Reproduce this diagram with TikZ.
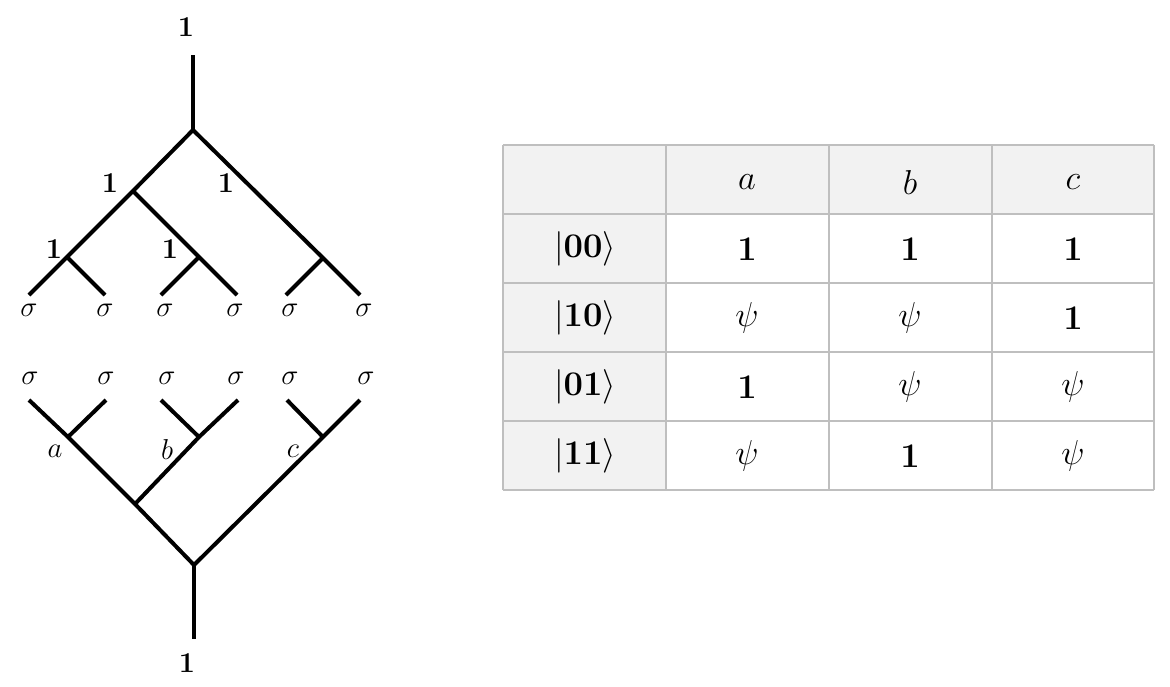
\documentclass[tikz,border=0pt]{standalone}
\usepackage{amsmath}
\usetikzlibrary{calc}
\definecolor{cellgray}{HTML}{F2F2F2}
\definecolor{gridgray}{HTML}{BFBFBF}
\newcommand{\bone}{$\mathbf{1}$}
\newcommand{\psiv}{$\psi$}

\begin{document}
\begin{tikzpicture}[x=0.5pt,y=-0.5pt,
  wire/.style={line width=2pt, line join=miter},
  onelabel/.style={font=\fontsize{14}{16}\selectfont, inner sep=0pt},
  leaflabel/.style={font=\fontsize{15.5}{18}\selectfont, inner sep=0pt},
  gridline/.style={draw=gridgray, line width=0.6pt},
  cell/.style={font=\fontsize{18}{21}\selectfont, inner sep=0pt}]
  \useasboundingbox (0,0) rectangle (1170,686);

  % Coordinates (upper tree)
  \coordinate (T) at (193,55);
  \coordinate (R) at (193,130);
  \coordinate (A) at (133,191);
  \coordinate (B) at (67,257);
  \coordinate (C) at (199,257);
  \coordinate (D) at (323,258);
  \coordinate (L1) at (29,295);
  \coordinate (L2) at (105,295);
  \coordinate (L3) at (161,295);
  \coordinate (L4) at (237,295);
  \coordinate (L5) at (286,295);
  \coordinate (L6) at (360,295);

  % Coordinates (lower tree)
  \coordinate (M1) at (29,400);
  \coordinate (M2) at (106,400);
  \coordinate (M3) at (161,400);
  \coordinate (M4) at (238,400);
  \coordinate (M5) at (287,400);
  \coordinate (M6) at (360,400);
  \coordinate (Ja) at (68,437);
  \coordinate (Jb) at (199,437);
  \coordinate (Jc) at (323,437);
  \coordinate (Jab) at (135,504);
  \coordinate (Q) at (194,565);
  \coordinate (S) at (194,639);

  % Drawing (upper tree)
  \draw[wire] (T) -- (R);
  \draw[wire] (L1) -- (B) -- (A) -- (R) -- (D) -- (L6);
  \draw[wire] (B) -- (L2);
  \draw[wire] (A) -- (C) -- (L4);
  \draw[wire] (C) -- (L3);
  \draw[wire] (D) -- (L5);
  \node[onelabel] (topone) at (186,27) {\bone};
  \node[onelabel] (oneA) at (110,183) {\bone};
  \node[onelabel] (oneR) at (226,183) {\bone};
  \node[onelabel] (oneB) at (54,249) {\bone};
  \node[onelabel] (oneC) at (170,249) {\bone};
  \foreach \x [count=\i] in {29,105,165,235,290,364}
    \node[leaflabel] (su\i) at (\x,310) {$\sigma$};

  % Drawing (lower tree)
  \draw[wire] (M1) -- (Ja) -- (Jab) -- (Q) -- (Jc) -- (M6);
  \draw[wire] (Ja) -- (M2);
  \draw[wire] (M4) -- (Jb) -- (Jab);
  \draw[wire] (Jb) -- (M3);
  \draw[wire] (Jc) -- (M5);
  \draw[wire] (Q) -- (S);
  \foreach \x [count=\i] in {30,106,167,236,290,366}
    \node[leaflabel] (sl\i) at (\x,378) {$\sigma$};
  \node[leaflabel] (la) at (55,451) {$a$};
  \node[leaflabel] (lb) at (167,449) {$b$};
  \node[leaflabel] (lc) at (293,451) {$c$};
  \node[onelabel] (botone) at (187,663) {\bone};

  % Table
  \fill[cellgray] (503,145) rectangle (1154,214);
  \fill[cellgray] (503,214) rectangle (666,490);
  \foreach \x in {503,666,829,992,1154}
    \draw[gridline] (\x,145) -- (\x,490);
  \foreach \y in {145,214,283,352,421,490}
    \draw[gridline] (503,\y) -- (1154,\y);
  \node[cell] (ha) at (747,182) {$a$};
  \node[cell] (hb) at (910,182) {$b$};
  \node[cell] (hc) at (1073,182) {$c$};
  \foreach \lab/\ea/\eb/\ec [count=\i] in
      {00/\bone/\bone/\bone, 10/\psiv/\psiv/\bone,
       01/\bone/\psiv/\psiv, 11/\psiv/\bone/\psiv} {
    \pgfmathsetmacro{\ry}{249+(\i-1)*69}
    \node[cell] (r\i) at (585,\ry) {$|\mathbf{\lab}\rangle$};
    \node[cell] (r\i a) at (747,\ry) {\ea};
    \node[cell] (r\i b) at (910,\ry) {\eb};
    \node[cell] (r\i c) at (1073,\ry) {\ec};
  }
\end{tikzpicture}
\end{document}
